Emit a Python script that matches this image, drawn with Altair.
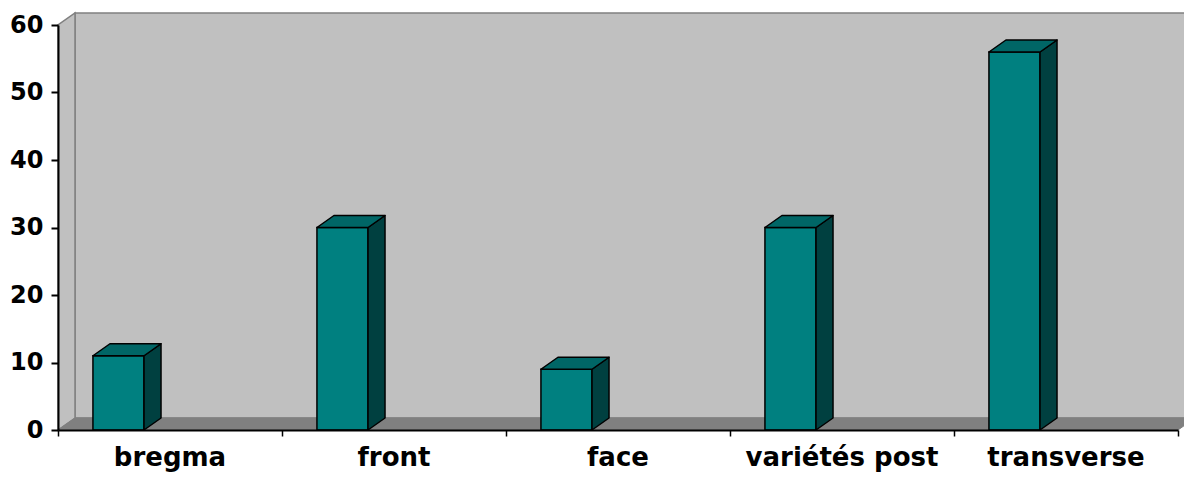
import altair as alt
import pandas as pd

# ---- data ----
categories = ["bregma", "front", "face", "variétés post", "transverse"]
values = [11, 30, 9, 30, 56]
y_ticks = [0, 10, 20, 30, 40, 50, 60]
x_ticks = [0, 1, 2, 3, 4, 5]

# ---- style / geometry constants (3D depth, bar placement in band) ----
N = len(categories)
YMAX = 60
W, H = 1120, 405
DX = 17 / (W / N)          # depth offset in x data units
DY = 12 / (H / YMAX)       # depth offset in y data units
BAR_L, BAR_R = 0.156, 0.384

FRONT = "#008080"
TOP = "#006666"
SIDE = "#004040"
WALL = "#C0C0C0"
FLOOR = "#808080"
EDGE = "#808080"

xscale = alt.Scale(domain=[0, N], nice=False, zero=False)
yscale = alt.Scale(domain=[0, YMAX], nice=False, zero=False)
xaxis = alt.Axis(values=x_ticks, labels=False, tickSize=6, tickWidth=1.5,
                 tickColor="black", domainColor="black", domainWidth=2,
                 grid=False, title=None, zindex=1)
yaxis = alt.Axis(values=y_ticks, tickSize=7, tickWidth=2, tickColor="black",
                 domainColor="black", domainWidth=2, grid=False, title=None,
                 labelFont="DejaVu Sans", labelFontWeight="bold",
                 labelFontSize=24, labelColor="black", labelPadding=8, zindex=1)


def X(f):
    return alt.X(f, type="quantitative", scale=xscale, axis=xaxis)


def Y(f):
    return alt.Y(f, type="quantitative", scale=yscale, axis=yaxis, stack=False)


# ---- tables built from the arrays ----
fronts = pd.DataFrame({
    "cat": categories,
    "x": [i + BAR_L for i in range(N)],
    "x2": [i + BAR_R for i in range(N)],
    "y": [0] * N,
    "y2": values,
})

side_rows, top_rows = [], []
for i, (c, v) in enumerate(zip(categories, values)):
    l, r = i + BAR_L, i + BAR_R
    side_rows += [
        {"cat": c, "x": r, "lo": 0, "hi": v},
        {"cat": c, "x": r + DX, "lo": DY, "hi": v + DY},
    ]
    top_rows += [
        {"cat": c, "x": l, "lo": v, "hi": v},
        {"cat": c, "x": l + DX, "lo": v, "hi": v + DY},
        {"cat": c, "x": r, "lo": v, "hi": v + DY},
        {"cat": c, "x": r + DX, "lo": v + DY, "hi": v + DY},
    ]
sides = pd.DataFrame(side_rows)
tops = pd.DataFrame(top_rows)

labels = pd.DataFrame({"cat": categories, "x": [i + 0.5 for i in range(N)], "y": [0] * N})

back = pd.DataFrame({"x": [DX], "x2": [N + DX], "y": [DY], "y2": [YMAX + DY]})
left_wall = pd.DataFrame({"x": [0, DX], "lo": [0, DY], "hi": [YMAX, YMAX + DY]})
floor = pd.DataFrame({"x": [0, DX, N, N + DX], "lo": [0, 0, 0, DY], "hi": [0, DY, DY, DY]})

# ---- layers ----
back_l = alt.Chart(back).mark_rect(fill=WALL, stroke=EDGE, strokeWidth=1.5).encode(
    x=X("x"), x2="x2", y=Y("y"), y2="y2")
left_l = alt.Chart(left_wall).mark_area(fill=WALL, stroke=EDGE, strokeWidth=1.5).encode(
    x=X("x"), y=Y("lo"), y2="hi")
floor_l = alt.Chart(floor).mark_area(fill=FLOOR, stroke=EDGE, strokeWidth=1).encode(
    x=X("x"), y=Y("lo"), y2="hi")

front_l = alt.Chart(fronts).mark_rect(fill=FRONT, stroke="black", strokeWidth=1.5).encode(
    x=X("x"), x2="x2", y=Y("y"), y2="y2")
side_l = alt.Chart(sides).mark_area(fill=SIDE, stroke="black", strokeWidth=1.5,
                                    strokeJoin="round").encode(
    x=X("x"), y=Y("lo"), y2="hi", detail="cat:N")
top_l = alt.Chart(tops).mark_area(fill=TOP, stroke="black", strokeWidth=1.5,
                                  strokeJoin="round").encode(
    x=X("x"), y=Y("lo"), y2="hi", detail="cat:N")

text_l = alt.Chart(labels).mark_text(
    font="DejaVu Sans", fontWeight="bold", fontSize=26, color="black",
    baseline="alphabetic", align="center", dy=36).encode(
    x=X("x"), y=Y("y"), text="cat:N")

chart = alt.layer(back_l, left_l, floor_l, front_l, side_l, top_l, text_l).properties(
    width=W, height=H,
    padding={"left": 50, "top": 17, "right": 6, "bottom": 43},
    autosize=alt.AutoSizeParams(type="none"),
    background="white",
).configure_view(strokeWidth=0)

chart.save("out.html", embed_options={"renderer": "svg", "actions": False})
